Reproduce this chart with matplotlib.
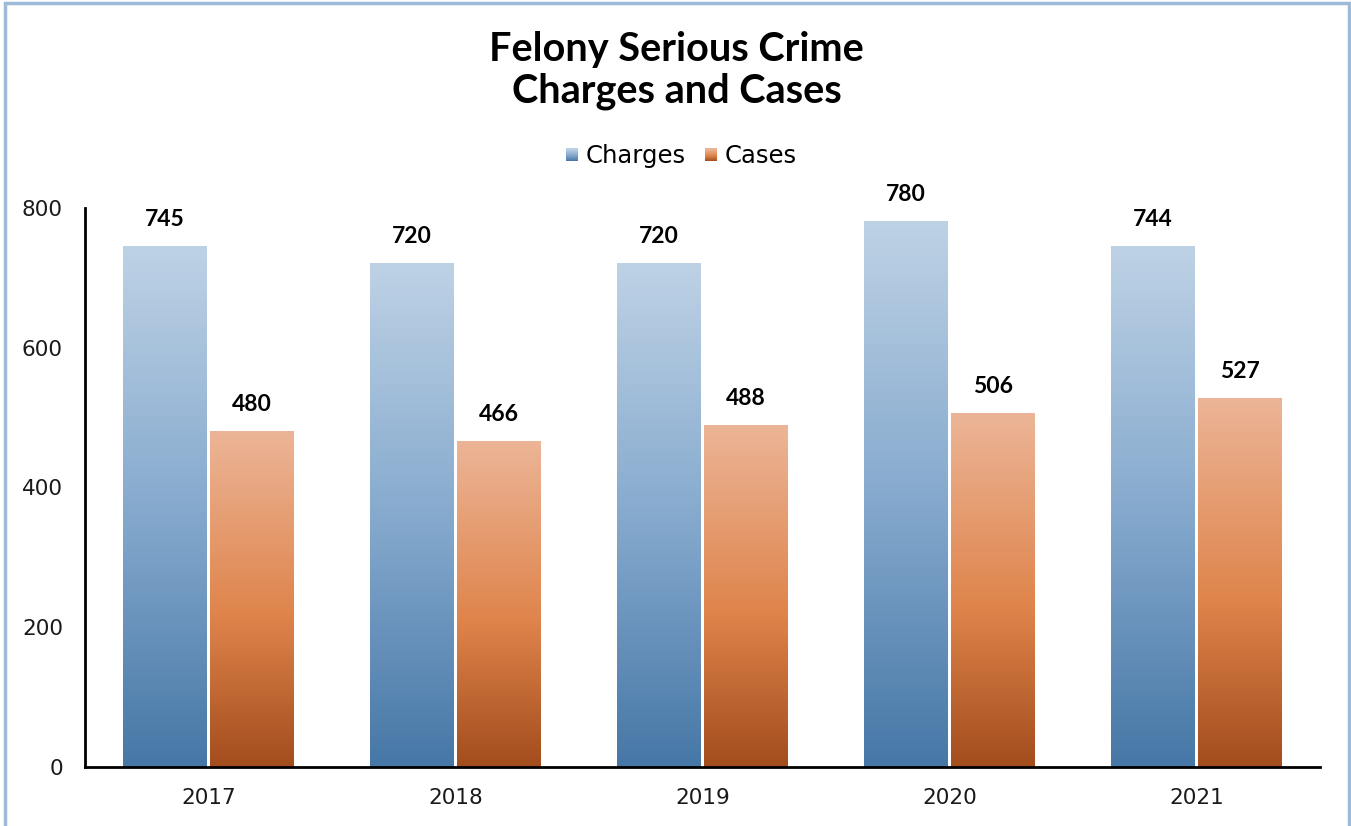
import numpy as np
import matplotlib.pyplot as plt
from matplotlib.colors import LinearSegmentedColormap
from matplotlib.patches import Rectangle
from matplotlib.legend_handler import HandlerBase

# Data
years = ['2017', '2018', '2019', '2020', '2021']
charges = [745, 720, 720, 780, 744]
cases = [480, 466, 488, 506, 527]

plt.rcParams['font.family'] = ['DejaVu Sans']
bold_font = ['Lato', 'DejaVu Sans']

# Gradient colormaps (0 = bottom, 1 = top)
blue_cmap = LinearSegmentedColormap.from_list(
    'blue_grad', [(0.0, '#4677a6'), (0.5, '#86aace'), (1.0, '#bed2e5')])
orange_cmap = LinearSegmentedColormap.from_list(
    'orange_grad', [(0.0, '#a34d1d'), (0.45, '#df844b'), (1.0, '#ecb597')])

fig = plt.figure(figsize=(13.51, 8.26), dpi=100)
ax = fig.add_axes([0.063, 0.0714, 0.914, 0.677])

x = np.arange(len(years))
width = 0.34
gap = 0.006

bars_charges = ax.bar(x - width / 2 - gap, charges, width, color='none')
bars_cases = ax.bar(x + width / 2 + gap, cases, width, color='none')

grad = np.linspace(0, 1, 256).reshape(-1, 1)


def fill_gradient(bars, cmap):
    for b in bars:
        x0, y0 = b.get_x(), b.get_y()
        w, h = b.get_width(), b.get_height()
        ax.imshow(grad, cmap=cmap, origin='lower', aspect='auto',
                  extent=[x0, x0 + w, y0, y0 + h], zorder=2,
                  interpolation='bicubic')


fill_gradient(bars_charges, blue_cmap)
fill_gradient(bars_cases, orange_cmap)

# Value labels
for bars, vals in ((bars_charges, charges), (bars_cases, cases)):
    for b, v in zip(bars, vals):
        ax.annotate(f'{v}', (b.get_x() + b.get_width() / 2, v),
                    xytext=(0, 12), textcoords='offset points',
                    ha='center', va='bottom', fontsize=16.5, fontweight='bold',
                    family=bold_font, color='black', annotation_clip=False)

ax.set_xlim(-0.5, len(years) - 0.5)
ax.set_ylim(0, 800)
ax.set_yticks([0, 200, 400, 600, 800])
ax.set_xticks(x)
ax.set_xticklabels(years)
ax.tick_params(axis='both', length=0, labelsize=15.5, colors='#1a1a1a')
ax.tick_params(axis='y', pad=16)
ax.tick_params(axis='x', pad=15)

for side in ('top', 'right'):
    ax.spines[side].set_visible(False)
for side in ('left', 'bottom'):
    ax.spines[side].set_linewidth(2)
    ax.spines[side].set_color('black')


class GradientHandler(HandlerBase):
    def __init__(self, cmap):
        super().__init__()
        self.cmap = cmap

    def create_artists(self, legend, orig_handle, xdescent, ydescent,
                       width, height, fontsize, trans):
        size = height * 0.72
        x0 = -xdescent + width - size
        y0 = -ydescent + (height - size) / 2
        n = 12
        artists = []
        for i in range(n):
            r = Rectangle((x0, y0 + size * i / n), size, size / n + 0.2,
                          facecolor=self.cmap((i + 0.5) / n),
                          edgecolor='none', transform=trans)
            artists.append(r)
        return artists


h1 = Rectangle((0, 0), 1, 1)
h2 = Rectangle((0, 0), 1, 1)
fig.legend([h1, h2], ['Charges', 'Cases'],
           handler_map={h1: GradientHandler(blue_cmap),
                        h2: GradientHandler(orange_cmap)},
           loc='center', bbox_to_anchor=(0.504, 0.811), ncol=2, frameon=False,
           fontsize=17.5, handlelength=0.55, handletextpad=0.3,
           columnspacing=0.75)

fig.text(0.501, 0.9146, 'Felony Serious Crime\nCharges and Cases',
         ha='center', va='center', fontsize=28.5, fontweight='bold',
         family=bold_font, linespacing=1.12)

# Chart area border
fig.patches.append(Rectangle((0.0037, -0.01), 0.9945, 1.006,
                             transform=fig.transFigure, fill=False,
                             edgecolor='#9dbbd8', linewidth=2.5))

fig.savefig('out.png', dpi=100)
